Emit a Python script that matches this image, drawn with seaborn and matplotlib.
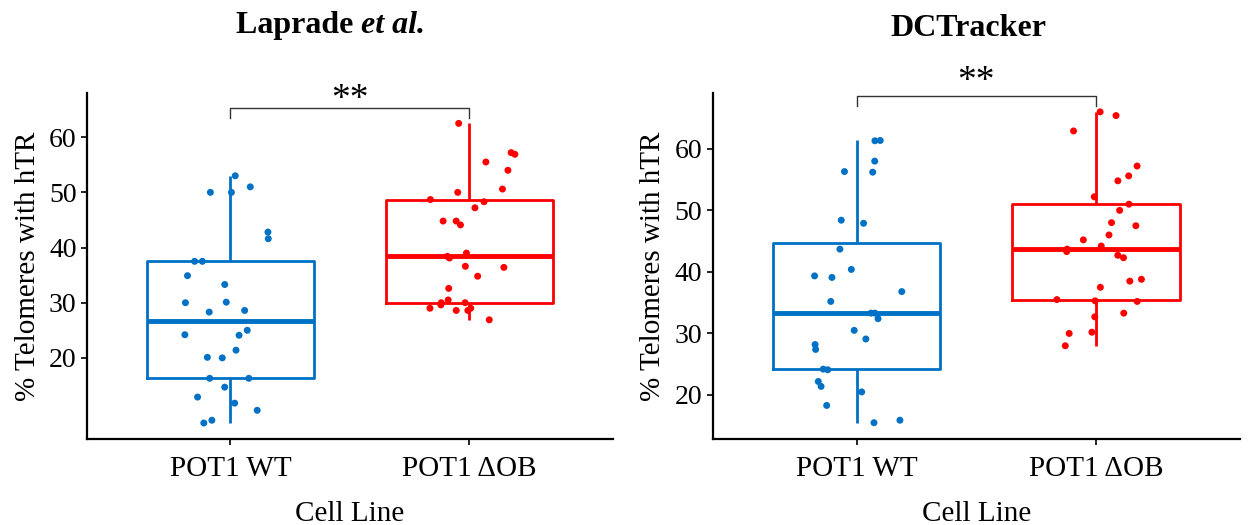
import numpy as np
import pandas as pd
import matplotlib
matplotlib.use("Agg")
import matplotlib.pyplot as plt
import seaborn as sns

# values
cell_lines = ["POT1 WT", "POT1 \u0394OB"]
laprade_wt = [53.0, 51.0, 50.0, 50.0, 42.8, 41.6, 37.5, 37.5, 34.9, 33.3, 30.0, 30.1, 28.6, 28.3,
              25.0, 24.1, 24.2, 21.4, 20.1, 20.0, 16.3, 16.3, 14.7, 12.9, 11.8, 10.5, 8.7, 8.2]
laprade_dob = [62.5, 57.2, 56.9, 55.5, 54.0, 50.6, 50.0, 48.7, 48.3, 47.2, 44.8, 44.8, 44.1, 39.0,
               38.4, 38.1, 36.6, 36.4, 34.8, 32.6, 30.5, 30.0, 30.0, 29.6, 29.0, 29.0, 28.6, 28.6, 26.9]
dct_wt = [61.35, 61.3, 58.0, 56.3, 56.2, 48.4, 47.9, 43.7, 40.4, 39.35, 39.1, 36.8, 35.2, 33.3,
          33.3, 32.4, 30.5, 29.1, 28.2, 27.4, 24.1, 24.2, 22.2, 21.4, 20.5, 18.3, 15.9, 15.5]
dct_dob = [66.0, 65.4, 62.9, 57.2, 55.6, 54.8, 52.2, 51.0, 50.0, 48.0, 47.5, 46.0, 45.2, 44.2,
           43.7, 43.3, 42.7, 42.3, 38.8, 38.5, 37.5, 35.5, 35.3, 35.2, 33.3, 32.7, 30.2, 30.0, 28.0]
yticks = [20, 30, 40, 50, 60]
sig_label = "**"

palette = {cell_lines[0]: "#0071C5", cell_lines[1]: "#FF0000"}

plt.rcParams['font.family'] = ['Liberation Serif', 'DejaVu Serif']


def make_df(wt, dob):
    return pd.DataFrame({
        "line": [cell_lines[0]] * len(wt) + [cell_lines[1]] * len(dob),
        "pct": wt + dob,
    })


def panel(ax, df, ylim, bracket_y, tip_y, star_y):
    sns.boxplot(data=df, x="line", y="pct", hue="line", palette=palette, order=cell_lines,
                fill=False, width=0.7, linewidth=2, showcaps=False, showfliers=False,
                medianprops={"linewidth": 3.5}, legend=False, ax=ax)
    sns.stripplot(data=df, x="line", y="pct", hue="line", palette=palette, order=cell_lines,
                  jitter=0.2, size=5, linewidth=0, legend=False, ax=ax)
    ax.set_xlim(-0.6, 1.6)
    ax.set_ylim(*ylim)
    ax.set_yticks(yticks)
    ax.set_xlabel("Cell Line", fontsize=21, labelpad=14)
    ax.set_ylabel("% Telomeres with hTR", fontsize=21, labelpad=6)
    ax.tick_params(axis="y", labelsize=20, length=4, width=1.2, color="black")
    ax.tick_params(axis="x", labelsize=21, length=4, width=1.2, color="black", pad=8)
    for s in ["top", "right"]:
        ax.spines[s].set_visible(False)
    for s in ["left", "bottom"]:
        ax.spines[s].set_linewidth(1.6)
        ax.spines[s].set_color("black")
    ax.plot([0, 0, 1, 1], [tip_y, bracket_y, bracket_y, tip_y], color="#333333",
            linewidth=1, clip_on=False)
    ax.text(0.5, star_y, sig_label, ha="center", va="center", fontsize=27, clip_on=False)


fig = plt.figure(figsize=(12.55, 5.25), dpi=100)
ax1 = fig.add_axes([0.0693, 0.1638, 0.419, 0.659])
ax2 = fig.add_axes([0.568, 0.1638, 0.420, 0.659])

np.random.seed(3)
panel(ax1, make_df(laprade_wt, laprade_dob), (5.3, 68.0), 65.2, 63.5, 66.8)
panel(ax2, make_df(dct_wt, dct_dob), (12.85, 69.06), 68.6, 67.0, 70.9)

# titles: "Laprade" bold + "et al." bold italic
fig.canvas.draw()
r = fig.canvas.get_renderer()
t1 = fig.text(236 / 1255, 1 - 33 / 525, "Laprade ", fontsize=23, fontweight="bold",
              ha="left", va="baseline")
bb = t1.get_window_extent(renderer=r)
fig.text(bb.x1 / fig.bbox.width, 1 - 33 / 525, "et al.", fontsize=23, fontweight="bold",
         fontstyle="italic", ha="left", va="baseline")
fig.text(968 / 1255, 1 - 36 / 525, "DCTracker", fontsize=23, fontweight="bold",
         ha="center", va="baseline")

fig.savefig("out.png", dpi=100, facecolor="white")
